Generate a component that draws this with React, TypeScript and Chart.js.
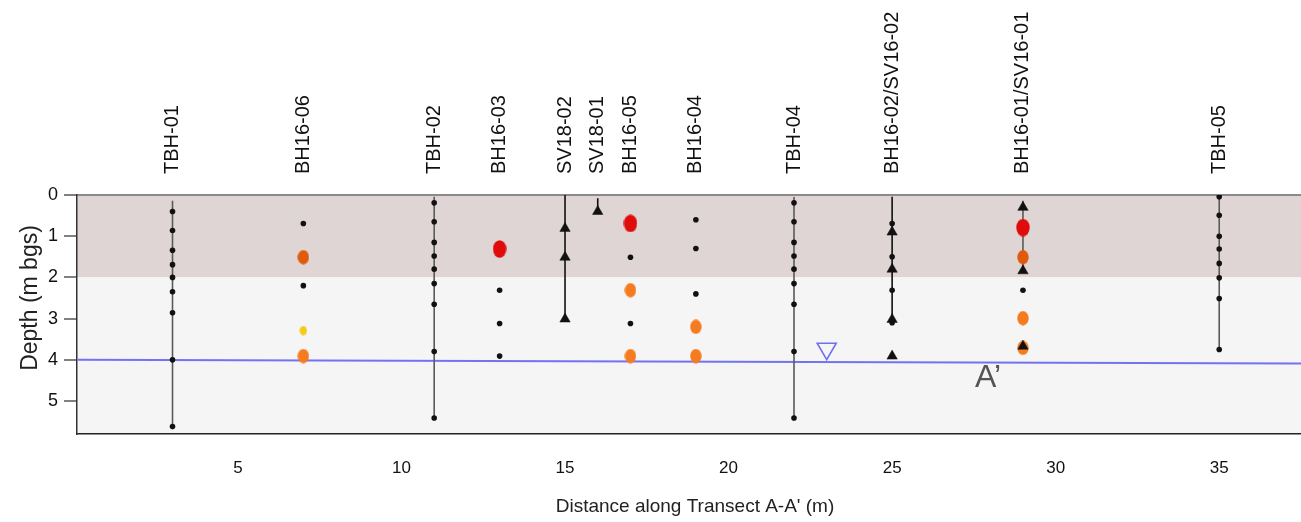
import React, { useEffect, useRef } from 'react';
import { Chart, registerables } from 'chart.js';

Chart.register(...registerables);

// ---------- data ----------
const BOREHOLE_NAMES = ['TBH-01', 'BH16-06', 'TBH-02', 'BH16-03', 'SV18-02', 'SV18-01', 'BH16-05', 'BH16-04', 'TBH-04', 'BH16-02/SV16-02', 'BH16-01/SV16-01', 'TBH-05'];
const BOREHOLE_X = [3, 7, 11, 13, 15, 16, 17, 19, 22, 25, 29, 35];

const X_TICKS = [5, 10, 15, 20, 25, 30, 35];
const Y_TICKS = [0, 1, 2, 3, 4, 5];
const X_MIN = 0.08;
const X_MAX = 37.5;
const Y_MAX = 5.8;

// depth bands (m bgs)
const BAND_TOP = [0, 2];
const BAND_BOTTOM = [2, 5.8];

// borehole log extents
const LOG_X = [3, 11, 22, 29, 35];
const LOG_TOP = [0.14, 0.04, 0.05, 0.14, 0.0];
const LOG_BOTTOM = [5.62, 5.41, 5.41, 1.85, 3.75];
// soil vapour probe extents
const PROBE_X = [15, 16, 25];
const PROBE_TOP = [0.0, 0.08, 0.04];
const PROBE_BOTTOM = [3.0, 0.4, 3.1];

// samples below criteria
const SAMPLE_X = [
  3, 3, 3, 3, 3, 3, 3, 3, 3,
  7, 7,
  11, 11, 11, 11, 11, 11, 11, 11, 11,
  13, 13, 13,
  17, 17,
  19, 19, 19,
  22, 22, 22, 22, 22, 22, 22, 22, 22,
  25, 25, 25, 25,
  29,
  35, 35, 35, 35, 35, 35, 35, 35,
];
const SAMPLE_DEPTH = [
  0.40, 0.86, 1.34, 1.69, 2.0, 2.35, 2.86, 4.0, 5.62,
  0.69, 2.2,
  0.19, 0.65, 1.15, 1.48, 1.8, 2.15, 2.65, 3.8, 5.41,
  2.31, 3.12, 3.91,
  1.51, 3.12,
  0.6, 1.3, 2.4,
  0.19, 0.65, 1.15, 1.48, 1.8, 2.15, 2.65, 3.8, 5.41,
  0.69, 1.5, 2.31, 3.1,
  2.31,
  0.04, 0.49, 1.0, 1.31, 1.66, 2.01, 2.51, 3.75,
];

// exceedance classes
const HIGH_X = [13, 17, 29];
const HIGH_DEPTH = [1.31, 0.69, 0.79];
const MED_HIGH_X = [7, 29];
const MED_HIGH_DEPTH = [1.51, 1.51];
const MED_X = [7, 17, 17, 19, 19, 29, 29];
const MED_DEPTH = [3.91, 2.31, 3.91, 3.2, 3.91, 2.99, 3.71];
const LOW_X = [7];
const LOW_DEPTH = [3.29];

// soil vapour samples
const VAPOUR_X = [15, 15, 15, 16, 25, 25, 25, 25, 29, 29, 29];
const VAPOUR_DEPTH = [0.81, 1.51, 3.01, 0.4, 0.9, 1.8, 3.02, 3.91, 0.3, 1.84, 3.67];

// groundwater
const WATER_X = [0.08, 37.5];
const WATER_DEPTH = [4.0, 4.09];
const WATER_MARK_X = [23];
const WATER_MARK_DEPTH = [3.73];

// section label
const SECTION_LABEL = 'A’';
const SECTION_X = 27.93;
const SECTION_DEPTH = 4.45;

const X_TITLE = "Distance along Transect A-A' (m)";
const Y_TITLE = 'Depth (m bgs)';

// ---------- helpers ----------
const FONT = '"Liberation Sans", Arial, Helvetica, sans-serif';

const pts = (xs: number[], ys: number[]) => xs.map((x, i) => ({ x, y: ys[i] }));

function ellipse(color: string, w: number, h: number): HTMLCanvasElement {
  const c = document.createElement('canvas');
  c.width = w;
  c.height = h;
  const g = c.getContext('2d')!;
  g.fillStyle = color;
  g.beginPath();
  g.ellipse(w / 2, h / 2, w / 2 - 0.3, h / 2 - 0.3, 0, 0, Math.PI * 2);
  g.fill();
  return c;
}

const bandsPlugin = {
  id: 'bands',
  beforeDraw(chart: any) {
    const { ctx, chartArea, scales } = chart;
    const colors = ['#dfd5d5', '#f5f5f5'];
    ctx.save();
    BAND_TOP.forEach((t, i) => {
      const y1 = scales.y.getPixelForValue(t);
      const y2 = scales.y.getPixelForValue(BAND_BOTTOM[i]);
      ctx.fillStyle = colors[i];
      ctx.fillRect(chartArea.left, y1, chartArea.right - chartArea.left, y2 - y1);
    });
    ctx.strokeStyle = '#8a8a8a';
    ctx.lineWidth = 2;
    ctx.beginPath();
    ctx.moveTo(chartArea.left, chartArea.top);
    ctx.lineTo(chartArea.right, chartArea.top);
    ctx.stroke();
    ctx.restore();
  },
};

const textPlugin = {
  id: 'texts',
  afterDraw(chart: any) {
    const { ctx, scales, chartArea } = chart;
    ctx.save();
    ctx.fillStyle = '#111';
    ctx.font = `20px ${FONT}`;
    ctx.textAlign = 'left';
    ctx.textBaseline = 'middle';
    BOREHOLE_NAMES.forEach((name, i) => {
      const px = scales.x.getPixelForValue(BOREHOLE_X[i]);
      ctx.save();
      ctx.translate(px, 174);
      ctx.rotate(-Math.PI / 2);
      ctx.fillText(name, 0, 0);
      ctx.restore();
    });
    // y title
    ctx.save();
    ctx.font = `23px ${FONT}`;
    ctx.fillStyle = '#222';
    ctx.textAlign = 'center';
    ctx.translate(31, 298);
    ctx.rotate(-Math.PI / 2);
    ctx.fillText(Y_TITLE, 0, 0);
    ctx.restore();
    // x title
    ctx.font = `19px ${FONT}`;
    ctx.fillStyle = '#222';
    ctx.textAlign = 'center';
    ctx.fillText(X_TITLE, (chartArea.left + chartArea.right) / 2 + 6, 507);
    // section label
    ctx.font = `32px ${FONT}`;
    ctx.fillStyle = '#555';
    ctx.fillText(SECTION_LABEL, scales.x.getPixelForValue(SECTION_X), scales.y.getPixelForValue(SECTION_DEPTH));
    ctx.restore();
  },
};

export default function App() {
  const ref = useRef<HTMLCanvasElement>(null);

  useEffect(() => {
    document.body.style.margin = '0';
    const redImg = ellipse('#e00b0b', 14, 18);
    const darkOrangeImg = ellipse('#e05a0c', 12, 15);
    const orangeImg = ellipse('#f57b20', 12, 15);
    const yellowImg = ellipse('#f5cb1a', 8, 10);

    const lineDatasets: any[] = [];
    LOG_X.forEach((x, i) => {
      lineDatasets.push({
        type: 'line',
        data: [{ x, y: LOG_TOP[i] }, { x, y: LOG_BOTTOM[i] }],
        borderColor: '#5a5a5a',
        borderWidth: 1.6,
        pointRadius: 0,
        order: 5,
      });
    });
    PROBE_X.forEach((x, i) => {
      lineDatasets.push({
        type: 'line',
        data: [{ x, y: PROBE_TOP[i] }, { x, y: PROBE_BOTTOM[i] }],
        borderColor: '#111',
        borderWidth: 1.6,
        pointRadius: 0,
        order: 5,
      });
    });

    const chart = new Chart(ref.current!, {
      type: 'scatter',
      data: {
        datasets: [
          {
            type: 'line',
            data: pts(WATER_X, WATER_DEPTH),
            borderColor: '#7373f2',
            borderWidth: 2,
            pointRadius: 0,
            order: 6,
          },
          ...lineDatasets,
          {
            data: pts(SAMPLE_X, SAMPLE_DEPTH),
            pointStyle: 'circle',
            pointRadius: 2.8,
            backgroundColor: '#111',
            borderWidth: 0,
            order: 4,
          },
          {
            data: pts(HIGH_X, HIGH_DEPTH),
            pointStyle: redImg,
            pointRadius: 8,
            order: 3,
          },
          {
            data: pts(MED_HIGH_X, MED_HIGH_DEPTH),
            pointStyle: darkOrangeImg,
            pointRadius: 7,
            order: 3,
          },
          {
            data: pts(MED_X, MED_DEPTH),
            pointStyle: orangeImg,
            pointRadius: 7,
            order: 3,
          },
          {
            data: pts(LOW_X, LOW_DEPTH),
            pointStyle: yellowImg,
            pointRadius: 5,
            order: 3,
          },
          {
            data: pts(VAPOUR_X, VAPOUR_DEPTH),
            pointStyle: 'triangle',
            pointRadius: 6,
            backgroundColor: '#111',
            borderColor: '#111',
            borderWidth: 0.5,
            order: 1,
          },
          {
            data: pts(WATER_MARK_X, WATER_MARK_DEPTH),
            pointStyle: 'triangle',
            rotation: 180,
            pointRadius: 11,
            backgroundColor: 'rgba(0,0,0,0)',
            borderColor: '#7070f5',
            borderWidth: 1.6,
            order: 1,
          },
        ],
      },
      options: {
        animation: false,
        responsive: false,
        maintainAspectRatio: false,
        layout: { autoPadding: false, padding: { top: 195, left: 0, right: 0, bottom: 0 } },
        plugins: {
          legend: { display: false },
          tooltip: { enabled: false },
        },
        scales: {
          x: {
            type: 'linear',
            min: X_MIN,
            max: X_MAX,
            afterBuildTicks: (s: any) => {
              s.ticks = X_TICKS.map((v) => ({ value: v }));
            },
            afterFit: (s: any) => {
              s.height = 88;
              s.paddingLeft = 0;
              s.paddingRight = 0;
            },
            grid: { display: false, drawTicks: false },
            border: { display: true, color: '#222', width: 1.5 },
            ticks: {
              font: { family: FONT, size: 17 },
              color: '#111',
              padding: 24,
              maxRotation: 0,
              autoSkip: false,
            },
          },
          y: {
            type: 'linear',
            reverse: true,
            min: 0,
            max: Y_MAX,
            afterBuildTicks: (s: any) => {
              s.ticks = Y_TICKS.map((v) => ({ value: v }));
            },
            afterFit: (s: any) => {
              s.width = 77;
              s.paddingTop = 0;
              s.paddingBottom = 0;
            },
            grid: { drawOnChartArea: false, drawTicks: true, tickLength: 13, color: '#808080', lineWidth: 2 },
            border: { display: true, color: '#333', width: 1.5 },
            ticks: {
              font: { family: FONT, size: 18 },
              color: '#111',
              padding: 6,
            },
          },
        },
      } as any,
      plugins: [bandsPlugin, textPlugin],
    } as any);

    return () => chart.destroy();
  }, []);

  return (
    <div style={{ position: 'fixed', left: 0, top: 0, width: 1301, height: 522, background: '#fff' }}>
      <canvas ref={ref} width={1301} height={522} style={{ width: 1301, height: 522, display: 'block' }} />
    </div>
  );
}
